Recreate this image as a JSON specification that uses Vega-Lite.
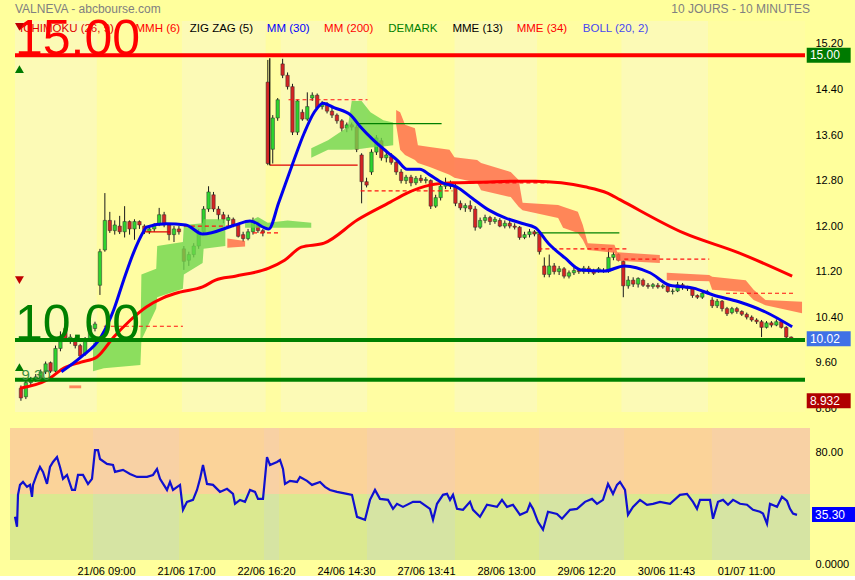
{
"$schema": "https://vega.github.io/schema/vega-lite/v6.json",
"background": "#FFFF9C",
"padding": {"left": 10, "top": 0, "right": 0, "bottom": 0},
"spacing": 10,
"config": {"font": "Liberation Sans", "view": {"stroke": null}},
"datasets": {
"days": [{"a":-1.2,"b":15.4,"k":"e"},{"a":15.4,"b":32.6,"k":"o"},{"a":32.6,"b":49.6,"k":"e"},{"a":49.6,"b":52.6,"k":"o"},{"a":52.6,"b":70.2,"k":"e"},{"a":70.2,"b":87.8,"k":"o"},{"a":87.8,"b":104.6,"k":"e"},{"a":104.6,"b":121.6,"k":"o"},{"a":121.6,"b":139.2,"k":"e"},{"a":139.2,"b":158.8,"k":"o"}],
"ohlc": [
{"t":0,"o":9.15,"h":9.2,"l":8.93,"c":8.98},{"t":1,"o":9.0,"h":9.28,"l":8.96,"c":9.25},{"t":2,"o":9.25,"h":9.35,"l":9.2,"c":9.3},{"t":3,"o":9.3,"h":9.4,"l":9.26,"c":9.35},{"t":4,"o":9.33,"h":9.48,"l":9.3,"c":9.44},{"t":5,"o":9.44,"h":9.62,"l":9.4,"c":9.58},{"t":6,"o":9.6,"h":9.62,"l":9.42,"c":9.45},{"t":7,"o":9.45,"h":9.9,"l":9.43,"c":9.85},{"t":8,"o":9.85,"h":10.15,"l":9.8,"c":10.05},{"t":9,"o":10.2,"h":10.3,"l":9.97,"c":10.0},
{"t":10,"o":10.0,"h":10.1,"l":9.93,"c":10.05},{"t":11,"o":10.02,"h":10.05,"l":9.85,"c":9.9},{"t":12,"o":9.9,"h":9.93,"l":9.68,"c":9.72},{"t":13,"o":9.75,"h":10.05,"l":9.72,"c":10.0},{"t":14,"o":10.0,"h":10.3,"l":9.98,"c":10.25},{"t":15,"o":10.2,"h":10.32,"l":10.15,"c":10.28},{"t":16,"o":10.96,"h":11.6,"l":10.79,"c":11.55},{"t":17,"o":11.58,"h":12.58,"l":11.55,"c":12.1},{"t":18,"o":12.1,"h":12.25,"l":11.88,"c":11.92},{"t":19,"o":11.92,"h":12.1,"l":11.85,"c":12.02},
{"t":20,"o":12.0,"h":12.18,"l":11.86,"c":11.9},{"t":21,"o":11.9,"h":12.35,"l":11.8,"c":12.08},{"t":22,"o":12.08,"h":12.1,"l":11.85,"c":11.95},{"t":23,"o":11.95,"h":12.12,"l":11.76,"c":12.08},{"t":24,"o":12.08,"h":12.1,"l":11.95,"c":12.02},{"t":25,"o":12.0,"h":12.03,"l":11.86,"c":11.9},{"t":26,"o":11.9,"h":12.0,"l":11.86,"c":11.95},{"t":27,"o":11.95,"h":12.05,"l":11.9,"c":12.03},{"t":28,"o":12.03,"h":12.32,"l":12.0,"c":12.2},{"t":29,"o":12.2,"h":12.25,"l":11.98,"c":12.02},
{"t":30,"o":12.02,"h":12.05,"l":11.75,"c":11.85},{"t":31,"o":11.85,"h":12.0,"l":11.72,"c":11.95},{"t":32,"o":11.95,"h":12.0,"l":11.85,"c":11.9},{"t":33,"o":11.6,"h":11.65,"l":11.23,"c":11.38},{"t":34,"o":11.4,"h":11.55,"l":11.3,"c":11.5},{"t":35,"o":11.5,"h":11.7,"l":11.45,"c":11.65},{"t":36,"o":11.65,"h":11.95,"l":11.6,"c":11.9},{"t":37,"o":11.9,"h":12.35,"l":11.85,"c":12.3},{"t":38,"o":12.3,"h":12.7,"l":12.25,"c":12.6},{"t":39,"o":12.55,"h":12.6,"l":12.25,"c":12.3},
{"t":40,"o":12.3,"h":12.35,"l":12.1,"c":12.2},{"t":41,"o":12.2,"h":12.25,"l":12.05,"c":12.12},{"t":42,"o":12.1,"h":12.2,"l":12.0,"c":12.15},{"t":43,"o":12.12,"h":12.15,"l":11.98,"c":12.02},{"t":44,"o":12.02,"h":12.05,"l":11.8,"c":11.82},{"t":45,"o":11.85,"h":11.9,"l":11.72,"c":11.78},{"t":46,"o":11.78,"h":11.95,"l":11.75,"c":11.9},{"t":47,"o":11.9,"h":12.15,"l":11.85,"c":12.1},{"t":48,"o":12.05,"h":12.08,"l":11.88,"c":11.92},{"t":49,"o":11.92,"h":11.95,"l":11.82,"c":11.88},
{"t":50,"o":14.53,"h":14.92,"l":13.07,"c":13.1},{"t":51,"o":13.35,"h":13.95,"l":13.1,"c":13.9},{"t":52,"o":13.9,"h":14.25,"l":13.85,"c":14.22},{"t":53,"o":14.85,"h":14.94,"l":14.6,"c":14.65},{"t":54,"o":14.65,"h":14.7,"l":14.4,"c":14.45},{"t":55,"o":14.45,"h":14.5,"l":13.6,"c":13.65},{"t":56,"o":13.65,"h":14.22,"l":13.6,"c":14.2},{"t":57,"o":14.0,"h":14.05,"l":13.85,"c":13.88},{"t":58,"o":13.88,"h":14.35,"l":13.85,"c":14.1},{"t":59,"o":14.25,"h":14.35,"l":14.2,"c":14.3},
{"t":60,"o":14.3,"h":14.33,"l":14.05,"c":14.08},{"t":61,"o":14.1,"h":14.2,"l":14.05,"c":14.15},{"t":62,"o":14.15,"h":14.18,"l":13.98,"c":14.02},{"t":63,"o":14.02,"h":14.08,"l":13.9,"c":13.95},{"t":64,"o":13.95,"h":13.98,"l":13.8,"c":13.85},{"t":65,"o":13.85,"h":13.88,"l":13.66,"c":13.72},{"t":66,"o":13.72,"h":13.82,"l":13.65,"c":13.78},{"t":67,"o":13.78,"h":13.82,"l":13.68,"c":13.74},{"t":68,"o":13.74,"h":13.78,"l":13.3,"c":13.35},{"t":69,"o":13.25,"h":13.28,"l":12.4,"c":12.78},
{"t":70,"o":12.78,"h":12.85,"l":12.68,"c":12.72},{"t":71,"o":12.95,"h":13.35,"l":12.9,"c":13.3},{"t":72,"o":13.3,"h":13.6,"l":13.25,"c":13.55},{"t":73,"o":13.5,"h":13.55,"l":13.15,"c":13.2},{"t":74,"o":13.2,"h":13.3,"l":13.12,"c":13.25},{"t":75,"o":13.22,"h":13.28,"l":13.08,"c":13.12},{"t":76,"o":13.12,"h":13.15,"l":12.9,"c":12.95},{"t":77,"o":12.95,"h":13.0,"l":12.75,"c":12.8},{"t":78,"o":12.8,"h":12.9,"l":12.74,"c":12.86},{"t":79,"o":12.86,"h":12.9,"l":12.7,"c":12.76},
{"t":80,"o":12.76,"h":12.88,"l":12.72,"c":12.84},{"t":81,"o":12.84,"h":12.9,"l":12.76,"c":12.8},{"t":82,"o":12.8,"h":12.86,"l":12.75,"c":12.82},{"t":83,"o":12.8,"h":12.82,"l":12.3,"c":12.35},{"t":84,"o":12.35,"h":12.55,"l":12.32,"c":12.5},{"t":85,"o":12.5,"h":12.75,"l":12.45,"c":12.7},{"t":86,"o":12.7,"h":12.85,"l":12.65,"c":12.76},{"t":87,"o":12.76,"h":12.8,"l":12.65,"c":12.7},{"t":88,"o":12.7,"h":12.74,"l":12.35,"c":12.4},{"t":89,"o":12.4,"h":12.45,"l":12.28,"c":12.32},
{"t":90,"o":12.32,"h":12.4,"l":12.25,"c":12.36},{"t":91,"o":12.36,"h":12.45,"l":12.25,"c":12.3},{"t":92,"o":12.3,"h":12.35,"l":11.92,"c":11.98},{"t":93,"o":11.98,"h":12.15,"l":11.95,"c":12.1},{"t":94,"o":12.1,"h":12.2,"l":12.05,"c":12.15},{"t":95,"o":12.15,"h":12.18,"l":12.02,"c":12.08},{"t":96,"o":12.08,"h":12.16,"l":12.04,"c":12.12},{"t":97,"o":12.1,"h":12.14,"l":11.98,"c":12.0},{"t":98,"o":12.0,"h":12.1,"l":11.96,"c":12.05},{"t":99,"o":12.05,"h":12.1,"l":11.96,"c":12.0},
{"t":100,"o":12.0,"h":12.05,"l":11.94,"c":11.98},{"t":101,"o":11.98,"h":12.0,"l":11.76,"c":11.8},{"t":102,"o":11.8,"h":11.9,"l":11.77,"c":11.85},{"t":103,"o":11.85,"h":11.95,"l":11.8,"c":11.9},{"t":104,"o":11.9,"h":11.93,"l":11.82,"c":11.86},{"t":105,"o":11.86,"h":11.88,"l":11.5,"c":11.55},{"t":106,"o":11.3,"h":11.45,"l":11.1,"c":11.15},{"t":107,"o":11.15,"h":11.5,"l":11.1,"c":11.3},{"t":108,"o":11.3,"h":11.35,"l":11.15,"c":11.2},{"t":109,"o":11.2,"h":11.3,"l":11.14,"c":11.25},
{"t":110,"o":11.25,"h":11.28,"l":11.08,"c":11.12},{"t":111,"o":11.12,"h":11.22,"l":11.08,"c":11.18},{"t":112,"o":11.18,"h":11.28,"l":11.14,"c":11.22},{"t":113,"o":11.22,"h":11.26,"l":11.16,"c":11.2},{"t":114,"o":11.2,"h":11.3,"l":11.16,"c":11.26},{"t":115,"o":11.26,"h":11.3,"l":11.16,"c":11.2},{"t":116,"o":11.2,"h":11.25,"l":11.14,"c":11.17},{"t":117,"o":11.2,"h":11.28,"l":11.18,"c":11.25},{"t":118,"o":11.22,"h":11.26,"l":11.18,"c":11.2},{"t":119,"o":11.2,"h":11.6,"l":11.18,"c":11.45},
{"t":120,"o":11.45,"h":11.55,"l":11.4,"c":11.5},{"t":121,"o":11.5,"h":11.52,"l":11.38,"c":11.4},{"t":122,"o":11.38,"h":11.4,"l":10.75,"c":10.95},{"t":123,"o":10.95,"h":11.12,"l":10.9,"c":11.05},{"t":124,"o":11.05,"h":11.1,"l":10.93,"c":10.98},{"t":125,"o":10.98,"h":11.1,"l":10.92,"c":11.08},{"t":126,"o":11.05,"h":11.08,"l":10.93,"c":10.96},{"t":127,"o":10.96,"h":11.0,"l":10.9,"c":10.94},{"t":128,"o":10.94,"h":11.0,"l":10.9,"c":10.97},{"t":129,"o":10.96,"h":11.0,"l":10.9,"c":10.93},
{"t":130,"o":10.93,"h":10.98,"l":10.9,"c":10.95},{"t":131,"o":10.95,"h":10.98,"l":10.83,"c":10.85},{"t":132,"o":10.85,"h":10.9,"l":10.8,"c":10.86},{"t":133,"o":10.86,"h":11.02,"l":10.84,"c":10.97},{"t":134,"o":10.97,"h":11.0,"l":10.88,"c":10.92},{"t":135,"o":10.92,"h":10.95,"l":10.86,"c":10.9},{"t":136,"o":10.9,"h":10.92,"l":10.74,"c":10.78},{"t":137,"o":10.78,"h":10.8,"l":10.72,"c":10.75},{"t":138,"o":10.75,"h":10.86,"l":10.72,"c":10.82},{"t":139,"o":10.82,"h":10.88,"l":10.8,"c":10.85},
{"t":140,"o":10.7,"h":10.75,"l":10.56,"c":10.6},{"t":141,"o":10.6,"h":10.72,"l":10.56,"c":10.68},{"t":142,"o":10.68,"h":10.7,"l":10.5,"c":10.55},{"t":143,"o":10.55,"h":10.58,"l":10.42,"c":10.46},{"t":144,"o":10.48,"h":10.58,"l":10.45,"c":10.55},{"t":145,"o":10.55,"h":10.58,"l":10.46,"c":10.5},{"t":146,"o":10.5,"h":10.52,"l":10.42,"c":10.45},{"t":147,"o":10.45,"h":10.48,"l":10.36,"c":10.4},{"t":148,"o":10.4,"h":10.43,"l":10.32,"c":10.35},{"t":149,"o":10.35,"h":10.38,"l":10.28,"c":10.32},
{"t":150,"o":10.32,"h":10.35,"l":10.05,"c":10.22},{"t":151,"o":10.22,"h":10.33,"l":10.2,"c":10.3},{"t":152,"o":10.3,"h":10.33,"l":10.22,"c":10.26},{"t":153,"o":10.26,"h":10.36,"l":10.24,"c":10.32},{"t":154,"o":10.32,"h":10.34,"l":10.2,"c":10.22},{"t":155,"o":10.22,"h":10.24,"l":10.03,"c":10.05},{"t":156,"o":10.05,"h":10.06,"l":9.98,"c":10.02}
],
"mm30": [{"t":8.2,"p":9.44},{"t":12.2,"p":9.7},{"t":16.2,"p":10.05},{"t":18.8,"p":10.53},{"t":20.8,"p":11.05},{"t":22.8,"p":11.53},{"t":24.8,"p":11.9},{"t":25.4,"p":11.98},{"t":29.4,"p":12.04},{"t":33.4,"p":12.02},{"t":36.8,"p":11.86},{"t":43.4,"p":12.02},{"t":46.4,"p":12.09},{"t":50.2,"p":11.95},{"t":52.2,"p":12.41},{"t":54.8,"p":13.04},{"t":57.4,"p":13.64},{"t":59.4,"p":14.0},{"t":61.2,"p":14.16},{"t":63.4,"p":14.08},{"t":66.8,"p":13.95},{"t":68.8,"p":13.74},{"t":71.4,"p":13.51},{"t":74.2,"p":13.3},{"t":76.2,"p":13.16},{"t":78.2,"p":13.0},{"t":80.8,"p":13.0},{"t":82.8,"p":12.9},{"t":85.4,"p":12.76},{"t":88.2,"p":12.69},{"t":91.4,"p":12.49},{"t":94.8,"p":12.28},{"t":98.2,"p":12.14},{"t":101.4,"p":12.05},{"t":104.2,"p":11.97},{"t":106.8,"p":11.7},{"t":110.2,"p":11.44},{"t":113.4,"p":11.23},{"t":118.2,"p":11.21},{"t":122.2,"p":11.3},{"t":127.4,"p":11.18},{"t":131.4,"p":10.96},{"t":136.2,"p":10.91},{"t":140.2,"p":10.79},{"t":145.4,"p":10.67},{"t":150.8,"p":10.49},{"t":156.2,"p":10.23}],
"mm200": [{"t":-0.2,"p":9.15},{"t":5.4,"p":9.3},{"t":8.8,"p":9.51},{"t":12.2,"p":9.61},{"t":15.4,"p":9.7},{"t":18.8,"p":10.05},{"t":22.2,"p":10.35},{"t":25.4,"p":10.58},{"t":28.8,"p":10.74},{"t":32.2,"p":10.84},{"t":36.8,"p":10.93},{"t":39.4,"p":11.05},{"t":43.4,"p":11.12},{"t":50.2,"p":11.26},{"t":53.4,"p":11.4},{"t":56.8,"p":11.63},{"t":61.4,"p":11.7},{"t":68.2,"p":12.11},{"t":74.8,"p":12.42},{"t":78.2,"p":12.58},{"t":82.8,"p":12.72},{"t":87.4,"p":12.76},{"t":92.8,"p":12.77},{"t":100.8,"p":12.79},{"t":104.2,"p":12.79},{"t":109.4,"p":12.76},{"t":114.2,"p":12.69},{"t":118.8,"p":12.58},{"t":121.4,"p":12.46},{"t":134.2,"p":11.88},{"t":145.4,"p":11.53},{"t":156.2,"p":11.12}],
"cloud": [
{"t":14.6,"top":9.95,"bot":9.45,"kind":"g","seg":"g1"},{"t":16.8,"top":10.02,"bot":9.5,"kind":"g","seg":"g1"},{"t":24.2,"top":10.02,"bot":9.56,"kind":"g","seg":"g1"},{"t":24.4,"top":11.15,"bot":10.0,"kind":"g","seg":"g1"},{"t":27.4,"top":11.25,"bot":10.55,"kind":"g","seg":"g1"},{"t":27.6,"top":11.65,"bot":10.75,"kind":"g","seg":"g1"},{"t":32.8,"top":11.72,"bot":10.9,"kind":"g","seg":"g1"},{"t":33.0,"top":12.02,"bot":11.15,"kind":"g","seg":"g1"},{"t":36.8,"top":12.05,"bot":11.35,"kind":"g","seg":"g1"},{"t":37.0,"top":12.12,"bot":11.6,"kind":"g","seg":"g1"},{"t":41.4,"top":12.12,"bot":11.65,"kind":"g","seg":"g1"},
{"t":9.8,"top":9.2,"bot":9.15,"kind":"r","seg":"r0"},{"t":12.2,"top":9.2,"bot":9.15,"kind":"r","seg":"r0"},
{"t":41.8,"top":11.78,"bot":11.62,"kind":"r","seg":"r1"},{"t":45.4,"top":11.74,"bot":11.64,"kind":"r","seg":"r1"},
{"t":45.4,"top":12.05,"bot":11.97,"kind":"g","seg":"g2"},{"t":48,"top":12.16,"bot":11.97,"kind":"g","seg":"g2"},{"t":50,"top":12.06,"bot":11.97,"kind":"g","seg":"g2"},{"t":54,"top":12.1,"bot":11.97,"kind":"g","seg":"g2"},{"t":58.8,"top":12.06,"bot":11.97,"kind":"g","seg":"g2"},
{"t":58.8,"top":13.37,"bot":13.2,"kind":"g","seg":"g3"},{"t":62.2,"top":13.51,"bot":13.34,"kind":"g","seg":"g3"},{"t":66.2,"top":13.74,"bot":13.34,"kind":"g","seg":"g3"},{"t":67.0,"top":14.2,"bot":13.34,"kind":"g","seg":"g3"},{"t":69.0,"top":14.2,"bot":13.36,"kind":"g","seg":"g3"},{"t":70.8,"top":14.0,"bot":13.38,"kind":"g","seg":"g3"},{"t":73.4,"top":13.86,"bot":13.4,"kind":"g","seg":"g3"},{"t":75.4,"top":13.82,"bot":13.42,"kind":"g","seg":"g3"},
{"t":76.0,"top":14.04,"bot":13.78,"kind":"r","seg":"r2"},{"t":76.8,"top":14.0,"bot":13.34,"kind":"r","seg":"r2"},{"t":77.8,"top":13.78,"bot":13.25,"kind":"r","seg":"r2"},{"t":79.8,"top":13.72,"bot":13.16,"kind":"r","seg":"r2"},{"t":80.4,"top":13.42,"bot":13.11,"kind":"r","seg":"r2"},{"t":82.8,"top":13.39,"bot":13.04,"kind":"r","seg":"r2"},{"t":86.8,"top":13.34,"bot":12.9,"kind":"r","seg":"r2"},{"t":87.8,"top":13.21,"bot":12.85,"kind":"r","seg":"r2"},{"t":92.4,"top":13.16,"bot":12.76,"kind":"r","seg":"r2"},{"t":93.2,"top":13.11,"bot":12.63,"kind":"r","seg":"r2"},{"t":99.2,"top":12.95,"bot":12.51,"kind":"r","seg":"r2"},{"t":100.8,"top":12.81,"bot":12.34,"kind":"r","seg":"r2"},{"t":101.6,"top":12.41,"bot":12.28,"kind":"r","seg":"r2"},{"t":108.8,"top":12.37,"bot":12.14,"kind":"r","seg":"r2"},{"t":109.8,"top":12.34,"bot":11.97,"kind":"r","seg":"r2"},{"t":112.8,"top":12.25,"bot":11.88,"kind":"r","seg":"r2"},{"t":113.8,"top":12.02,"bot":11.76,"kind":"r","seg":"r2"},{"t":114.8,"top":11.7,"bot":11.58,"kind":"r","seg":"r2"},{"t":120.2,"top":11.67,"bot":11.53,"kind":"r","seg":"r2"},{"t":120.8,"top":11.54,"bot":11.39,"kind":"r","seg":"r2"},{"t":129.4,"top":11.49,"bot":11.35,"kind":"r","seg":"r2"},
{"t":130.8,"top":11.18,"bot":11.05,"kind":"r","seg":"r3"},{"t":139.4,"top":11.14,"bot":11.03,"kind":"r","seg":"r3"},{"t":140.0,"top":11.11,"bot":10.88,"kind":"r","seg":"r3"},{"t":146.8,"top":11.05,"bot":10.84,"kind":"r","seg":"r3"},{"t":148.4,"top":10.88,"bot":10.7,"kind":"r","seg":"r3"},{"t":150.8,"top":10.7,"bot":10.61,"kind":"r","seg":"r3"},{"t":158.2,"top":10.67,"bot":10.47,"kind":"r","seg":"r3"}
],
"segs": [{"t1":16.8,"t2":32.8,"p":10.24,"kind":"dm"},{"t1":25.2,"t2":30.2,"p":11.9,"kind":"zz"},{"t1":33,"t2":43,"p":12.0,"kind":"dm"},{"t1":47,"t2":52.4,"p":11.88,"kind":"dm"},{"t1":54.2,"t2":70.2,"p":14.22,"kind":"dm"},{"t1":50.4,"t2":68.2,"p":13.07,"kind":"zz"},{"t1":68.8,"t2":87.4,"p":12.62,"kind":"dm"},{"t1":88.2,"t2":106.8,"p":12.76,"kind":"dm"},{"t1":68.2,"t2":85.2,"p":13.8,"kind":"gl"},{"t1":104.8,"t2":122.8,"p":11.6,"kind":"dm"},{"t1":104.2,"t2":121.2,"p":11.88,"kind":"gl"},{"t1":122.2,"t2":139.4,"p":11.42,"kind":"dm"},{"t1":142.8,"t2":156.8,"p":10.82,"kind":"dm"}],
"zzv": [{"t":50.4,"p1":13.07,"p2":14.95}],
"levels": [{"p":15.0,"kind":"res","lbl":"15.00"},{"p":10.0,"kind":"sup","lbl":"10.00"},{"p":9.3,"kind":"sup","lbl":"9.30"}],
"legend": [{"t":-0.2,"txt":"ICHIMOKU (26, 9)"},{"t":23.2,"txt":"MMH (6)"},{"t":34.2,"txt":"ZIG ZAG (5)"},{"t":49.8,"txt":"MM (30)"},{"t":61.4,"txt":"MM (200)"},{"t":74.4,"txt":"DEMARK"},{"t":87.4,"txt":"MME (13)"},{"t":100.4,"txt":"MME (34)"},{"t":113.8,"txt":"BOLL (20, 2)"}],
"arrows": [{"p":15.5,"dir":"down"},{"p":14.76,"dir":"up"},{"p":11.05,"dir":"down"},{"p":9.52,"dir":"up"}],
"badges": [{"p":15.0,"txt":"15.00","kind":"res"},{"p":10.02,"txt":"10.02","kind":"last"},{"p":8.932,"txt":"8.932","kind":"low"}],
"rsi": [{"t":-0.2,"r":33.7},{"t":0.2,"r":26.6},{"t":0.4,"r":49.4},{"t":0.8,"r":56.5},{"t":1.4,"r":58.6},{"t":2.2,"r":55.1},{"t":2.8,"r":56.5},{"t":3.2,"r":48},{"t":3.4,"r":56.5},{"t":4.2,"r":64.3},{"t":4.8,"r":69.3},{"t":5.4,"r":65.8},{"t":6.2,"r":57.2},{"t":6.8,"r":69.3},{"t":7.4,"r":72.9},{"t":8.2,"r":76.4},{"t":8.8,"r":69.3},{"t":9.4,"r":60.8},{"t":10.2,"r":63.6},{"t":11.2,"r":52.9},{"t":11.8,"r":52.9},{"t":12.4,"r":63.6},{"t":13.4,"r":63.6},{"t":14.4,"r":57.2},{"t":15.2,"r":60.8},{"t":15.8,"r":81.4},{"t":16.4,"r":81.4},{"t":16.8,"r":75},{"t":18.2,"r":71.5},{"t":19.4,"r":70.8},{"t":19.8,"r":65.8},{"t":21.4,"r":67.2},{"t":22.8,"r":64.3},{"t":24.2,"r":62.2},{"t":26.2,"r":62.2},{"t":27.4,"r":63.6},{"t":28.2,"r":67.9},{"t":28.8,"r":60.8},{"t":30.2,"r":52.9},{"t":30.8,"r":58.6},{"t":31.4,"r":52.9},{"t":32.8,"r":56.5},{"t":33.2,"r":44.4},{"t":33.4,"r":38.7},{"t":34.2,"r":44.4},{"t":35.4,"r":45.8},{"t":36.2,"r":52.9},{"t":36.8,"r":60.8},{"t":37.4,"r":70.7},{"t":38.2,"r":57.2},{"t":39.4,"r":56.5},{"t":40.8,"r":51.5},{"t":42.2,"r":53.7},{"t":43.4,"r":50.1},{"t":43.8,"r":43},{"t":44.8,"r":45.8},{"t":45.8,"r":44.4},{"t":46.8,"r":52.9},{"t":47.8,"r":51.5},{"t":48.4,"r":46.5},{"t":49.4,"r":46.5},{"t":50.2,"r":76.4},{"t":50.8,"r":70.7},{"t":52.2,"r":72.9},{"t":52.8,"r":74.3},{"t":53.4,"r":67.9},{"t":53.8,"r":57.2},{"t":54.8,"r":59.4},{"t":56.2,"r":58.6},{"t":56.8,"r":62.2},{"t":58.2,"r":59.4},{"t":59.2,"r":56.5},{"t":60.8,"r":58.6},{"t":61.8,"r":55.1},{"t":62.8,"r":52.9},{"t":64.2,"r":51.5},{"t":66.2,"r":50.1},{"t":67.2,"r":49.4},{"t":68.2,"r":33.7},{"t":69.8,"r":31.6},{"t":70.8,"r":45.8},{"t":71.8,"r":52.9},{"t":72.8,"r":46.5},{"t":74.4,"r":45.8},{"t":75.4,"r":39.4},{"t":76.2,"r":43},{"t":77.4,"r":40.8},{"t":79.4,"r":44.4},{"t":80.8,"r":44.4},{"t":82.8,"r":39.4},{"t":83.4,"r":31.6},{"t":84.2,"r":43},{"t":85.4,"r":49.4},{"t":86.2,"r":50.1},{"t":86.8,"r":45.8},{"t":87.4,"r":49.4},{"t":88.2,"r":39.4},{"t":89.4,"r":38.7},{"t":90.8,"r":44.4},{"t":91.4,"r":38.7},{"t":92.8,"r":33.7},{"t":94.2,"r":42.3},{"t":96.2,"r":40.8},{"t":97.2,"r":45.8},{"t":98.2,"r":40.8},{"t":99.4,"r":42.3},{"t":100.8,"r":35.1},{"t":102.2,"r":37.3},{"t":102.8,"r":43},{"t":103.4,"r":39.4},{"t":104.4,"r":30.1},{"t":105.4,"r":24.5},{"t":106.4,"r":37.3},{"t":108.2,"r":35.8},{"t":109.2,"r":32.3},{"t":110.8,"r":38.7},{"t":112.2,"r":39.4},{"t":113.8,"r":44.4},{"t":115.2,"r":46.5},{"t":116.2,"r":43},{"t":117.4,"r":45.8},{"t":118.4,"r":57.2},{"t":119.4,"r":50.1},{"t":120.2,"r":56.5},{"t":120.8,"r":58.6},{"t":121.8,"r":52.9},{"t":122.4,"r":35.1},{"t":123.4,"r":40.8},{"t":124.8,"r":45.8},{"t":126.2,"r":42.3},{"t":127.4,"r":43},{"t":128.8,"r":44.4},{"t":130.8,"r":43},{"t":132.8,"r":49.4},{"t":134.2,"r":50.1},{"t":135.4,"r":44.4},{"t":136.2,"r":39.4},{"t":136.8,"r":45.8},{"t":138.8,"r":45.8},{"t":139.4,"r":32.3},{"t":140.4,"r":44.4},{"t":141.4,"r":45.8},{"t":142.4,"r":42.3},{"t":143.4,"r":45.8},{"t":144.8,"r":43},{"t":146.2,"r":42.3},{"t":147.4,"r":38.7},{"t":148.8,"r":37.3},{"t":149.4,"r":36},{"t":150.2,"r":28.7},{"t":150.8,"r":43},{"t":152.2,"r":40.8},{"t":153.2,"r":48},{"t":154.2,"r":45},{"t":154.8,"r":39.4},{"t":155.4,"r":36},{"t":156.2,"r":35.1}]
},
"vconcat": [
{
"width": 800, "height": 412,
"resolve": {"scale": {"color": "independent", "strokeDash": "independent", "shape": "independent"}},
"layer": [
{"data": {"name": "days"}, "mark": {"type": "rect"},
 "encoding": {
  "x": {"field": "a", "type": "quantitative", "scale": {"domain": [-1.2, 158.8], "nice": false, "zero": false}, "axis": null},
  "x2": {"field": "b"},
  "y": {"datum": 8.733, "type": "quantitative", "scale": {"domain": [8.733, 15.973], "nice": false, "zero": false},
        "axis": {"orient": "right", "values": [8.8, 9.6, 10.4, 11.2, 12, 12.8, 13.6, 14.4, 15.2], "format": ".2f", "ticks": false, "domain": false, "grid": false, "labelPadding": 5, "labelFontSize": 11, "labelColor": "#000000", "title": null, "labelAlign": "left", "labelBaseline": "middle"}},
  "y2": {"datum": 15.604},
  "color": {"field": "k", "type": "nominal", "scale": {"domain": ["e", "o"], "range": ["#FCFAB6", "#FFFDA2"]}, "legend": null}}},
{"data": {"name": "ohlc"}, "mark": {"type": "rule", "color": "#1a1a1a", "strokeWidth": 1},
 "encoding": {"x": {"field": "t", "type": "quantitative", "axis": null}, "y": {"field": "l", "type": "quantitative"}, "y2": {"field": "h"}}},
{"data": {"name": "ohlc"}, "mark": {"type": "bar", "size": 3.4, "stroke": "#2a2a2a", "strokeWidth": 0.5},
 "encoding": {"x": {"field": "t", "type": "quantitative", "axis": null}, "y": {"field": "o", "type": "quantitative"}, "y2": {"field": "c"},
  "color": {"condition": {"test": "datum.c >= datum.o", "value": "#2ED42E"}, "value": "#D42424"}}},
{"data": {"name": "cloud"}, "mark": {"type": "area", "opacity": 0.8},
 "encoding": {"x": {"field": "t", "type": "quantitative", "axis": null}, "y": {"field": "top", "type": "quantitative", "stack": null}, "y2": {"field": "bot"},
  "color": {"field": "kind", "type": "nominal", "scale": {"domain": ["g", "r"], "range": ["#6FD64E", "#FF6846"]}, "legend": null},
  "detail": {"field": "seg", "type": "nominal"}}},
{"data": {"name": "segs"}, "mark": {"type": "rule", "strokeWidth": 1.2},
 "encoding": {"x": {"field": "t1", "type": "quantitative", "axis": null}, "x2": {"field": "t2"}, "y": {"field": "p", "type": "quantitative"},
  "color": {"field": "kind", "type": "nominal", "scale": {"domain": ["dm", "zz", "gl"], "range": ["#FF1010", "#E00000", "#008000"]}, "legend": null},
  "strokeDash": {"field": "kind", "type": "nominal", "scale": {"domain": ["dm", "zz", "gl"], "range": [[4, 3], [1, 0], [1, 0]]}, "legend": null}}},
{"data": {"name": "zzv"}, "mark": {"type": "rule", "color": "#000000", "strokeWidth": 1.2},
 "encoding": {"x": {"field": "t", "type": "quantitative", "axis": null}, "y": {"field": "p1", "type": "quantitative"}, "y2": {"field": "p2"}}},
{"data": {"name": "mm200"}, "mark": {"type": "line", "color": "#FF0000", "strokeWidth": 3, "interpolate": "monotone"},
 "encoding": {"x": {"field": "t", "type": "quantitative", "axis": null}, "y": {"field": "p", "type": "quantitative"}}},
{"data": {"name": "mm30"}, "mark": {"type": "line", "color": "#0000EE", "strokeWidth": 3, "interpolate": "monotone"},
 "encoding": {"x": {"field": "t", "type": "quantitative", "axis": null}, "y": {"field": "p", "type": "quantitative"}}},
{"data": {"name": "levels"}, "mark": {"type": "rule", "strokeWidth": 4},
 "encoding": {"x": {"datum": -1.2, "type": "quantitative", "axis": null}, "x2": {"datum": 158.8}, "y": {"field": "p", "type": "quantitative"},
  "color": {"field": "kind", "type": "nominal", "scale": {"domain": ["res", "sup"], "range": ["#FF0000", "#008000"]}, "legend": null}}},
{"data": {"values": [{}]}, "mark": {"type": "text", "align": "left", "baseline": "alphabetic", "fontSize": 12, "color": "#808080"},
 "encoding": {"x": {"datum": -1.2, "type": "quantitative", "axis": null}, "y": {"datum": 15.75, "type": "quantitative"}, "text": {"value": "VALNEVA - abcbourse.com"}}},
{"data": {"values": [{}]}, "mark": {"type": "text", "align": "right", "baseline": "alphabetic", "fontSize": 12, "color": "#808080"},
 "encoding": {"x": {"datum": 159.8, "type": "quantitative", "axis": null}, "y": {"datum": 15.75, "type": "quantitative"}, "text": {"value": "10 JOURS - 10 MINUTES"}}},
{"data": {"name": "legend"}, "mark": {"type": "text", "align": "left", "baseline": "alphabetic", "fontSize": 11.5},
 "encoding": {"x": {"field": "t", "type": "quantitative", "axis": null}, "y": {"datum": 15.41, "type": "quantitative"}, "text": {"field": "txt"},
  "color": {"field": "txt", "type": "nominal", "scale": {"domain": ["ICHIMOKU (26, 9)", "MMH (6)", "ZIG ZAG (5)", "MM (30)", "MM (200)", "DEMARK", "MME (13)", "MME (34)", "BOLL (20, 2)"], "range": ["#E00000", "#FF0000", "#000000", "#0000FF", "#FF0000", "#008000", "#000000", "#FF0000", "#4848F0"]}, "legend": null}}},
{"data": {"name": "levels"}, "transform": [{"filter": "datum.p >= 10"}], "mark": {"type": "text", "align": "left", "baseline": "alphabetic", "fontSize": 50},
 "encoding": {"x": {"datum": -1.2, "type": "quantitative", "axis": null}, "y": {"field": "p", "type": "quantitative"}, "text": {"field": "lbl"},
  "color": {"field": "kind", "type": "nominal", "scale": {"domain": ["res", "sup"], "range": ["#FF0000", "#008000"]}, "legend": null}}},
{"data": {"name": "levels"}, "transform": [{"filter": "datum.p < 10"}], "mark": {"type": "text", "align": "left", "baseline": "alphabetic", "fontSize": 15, "color": "#3C8C3C"},
 "encoding": {"x": {"datum": 0.1, "type": "quantitative", "axis": null}, "y": {"field": "p", "type": "quantitative"}, "text": {"field": "lbl"}}},
{"data": {"name": "arrows"}, "mark": {"type": "point", "filled": true, "opacity": 1, "size": 80},
 "encoding": {"x": {"datum": -0.3, "type": "quantitative", "axis": null}, "y": {"field": "p", "type": "quantitative"},
  "shape": {"field": "dir", "type": "nominal", "scale": {"domain": ["up", "down"], "range": ["triangle-up", "triangle-down"]}, "legend": null},
  "color": {"field": "dir", "type": "nominal", "scale": {"domain": ["up", "down"], "range": ["#007A00", "#C00000"]}, "legend": null}}},
{"data": {"name": "badges"}, "mark": {"type": "point", "filled": true, "opacity": 1, "size": 225, "shape": "M-2.93,-1H2.93V1H-2.93Z"},
 "encoding": {"x": {"datum": 163.6, "type": "quantitative", "axis": null}, "y": {"field": "p", "type": "quantitative"},
  "color": {"field": "kind", "type": "nominal", "scale": {"domain": ["res", "last", "low"], "range": ["#007A00", "#3F70E6", "#B00000"]}, "legend": null}}},
{"data": {"name": "badges"}, "mark": {"type": "text", "align": "left", "baseline": "middle", "fontSize": 12, "color": "#FFFFFF"},
 "encoding": {"x": {"datum": 159.8, "type": "quantitative", "axis": null}, "y": {"field": "p", "type": "quantitative"}, "text": {"field": "txt"}}}
]
},
{
"width": 800, "height": 140,
"resolve": {"scale": {"color": "independent"}},
"layer": [
{"data": {"name": "days"}, "mark": {"type": "rect"},
 "encoding": {
  "x": {"field": "a", "type": "quantitative", "scale": {"domain": [-1.2, 158.8], "nice": false, "zero": false},
        "axis": {"values": [18, 34, 50, 66, 82, 98, 114, 130, 146], "labelExpr": "['21/06 09:00','21/06 17:00','22/06 16:20','24/06 14:30','27/06 13:41','28/06 13:00','29/06 12:20','30/06 11:43','01/07 11:00'][round((datum.value-18)/16)]", "ticks": false, "domain": false, "grid": false, "labelPadding": 1, "labelFontSize": 11, "labelColor": "#000000", "title": null, "labelFlush": false, "labelOverlap": false}},
  "x2": {"field": "b"},
  "y": {"datum": 50, "type": "quantitative", "scale": {"domain": [0, 100], "nice": false, "zero": false},
        "axis": {"orient": "right", "values": [0, 80], "labelExpr": "datum.value == 0 ? '0.0000' : '80.00'", "ticks": false, "domain": false, "grid": false, "labelPadding": 5, "labelFontSize": 11, "labelColor": "#000000", "title": null, "labelAlign": "left", "labelBaseline": "middle"}},
  "y2": {"datum": 97.1},
  "color": {"field": "k", "type": "nominal", "scale": {"domain": ["e", "o"], "range": ["#FBD399", "#F8D1A4"]}, "legend": null}}},
{"data": {"name": "days"}, "mark": {"type": "rect"},
 "encoding": {
  "x": {"field": "a", "type": "quantitative"}, "x2": {"field": "b"},
  "y": {"datum": 2.9, "type": "quantitative"}, "y2": {"datum": 50},
  "color": {"field": "k", "type": "nominal", "scale": {"domain": ["e", "o"], "range": ["#DBE990", "#D6E4A3"]}, "legend": null}}},
{"mark": {"type": "rule", "color": "#4A5A2A", "strokeWidth": 1},
 "encoding": {"y": {"datum": 50, "type": "quantitative"}}},
{"data": {"name": "rsi"}, "mark": {"type": "line", "color": "#1010D0", "strokeWidth": 2.2},
 "encoding": {"x": {"field": "t", "type": "quantitative"}, "y": {"field": "r", "type": "quantitative"}}},
{"data": {"values": [{}]}, "mark": {"type": "point", "filled": true, "opacity": 1, "size": 225, "shape": "M-2.93,-1H2.93V1H-2.93Z", "color": "#0000FF"},
 "encoding": {"x": {"datum": 163.6, "type": "quantitative"}, "y": {"datum": 35.3, "type": "quantitative"}}},
{"data": {"values": [{}]}, "mark": {"type": "text", "align": "left", "baseline": "middle", "fontSize": 12, "color": "#FFFFFF"},
 "encoding": {"x": {"datum": 159.8, "type": "quantitative"}, "y": {"datum": 35.3, "type": "quantitative"}, "text": {"value": "35.30"}}}
]
}
]
}
